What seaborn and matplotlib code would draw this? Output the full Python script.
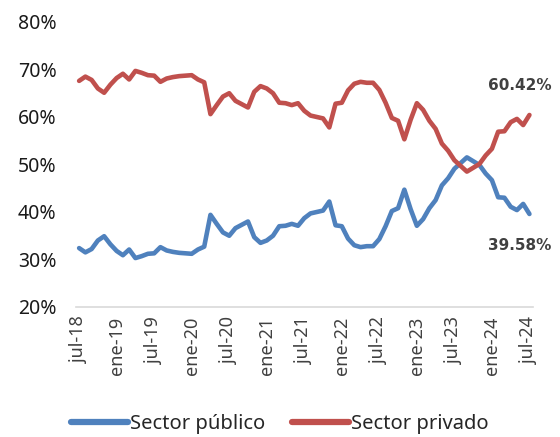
import pandas as pd
import matplotlib.pyplot as plt
import seaborn as sns
from matplotlib.ticker import FuncFormatter

# Participación mensual, jul-18 a jul-24 (%)
privado = [67.6, 68.5, 67.8, 66.0, 65.1, 66.8, 68.2, 69.1, 67.9, 69.7, 69.3, 68.8,
           68.7, 67.4, 68.1, 68.4, 68.6, 68.7, 68.8, 67.9, 67.3, 60.6, 62.5, 64.3,
           65.0, 63.4, 62.7, 62.0, 65.3, 66.5, 66.0, 65.0, 63.0, 62.9, 62.5, 62.9,
           61.3, 60.3, 60.0, 59.7, 57.8, 62.8, 63.0, 65.6, 67.0, 67.4, 67.2, 67.2,
           65.7, 63.0, 59.8, 59.2, 55.3, 59.4, 62.9, 61.5, 59.2, 57.5, 54.4, 52.9,
           50.9, 49.7, 48.5, 49.3, 50.1, 51.9, 53.3, 56.9, 57.0, 58.9, 59.6, 58.3,
           60.42]
publico = [32.4, 31.5, 32.2, 34.0, 34.9, 33.2, 31.8, 30.9, 32.1, 30.3, 30.7, 31.2,
           31.3, 32.6, 31.9, 31.6, 31.4, 31.3, 31.2, 32.1, 32.7, 39.4, 37.5, 35.7,
           35.0, 36.6, 37.3, 38.0, 34.7, 33.5, 34.0, 35.0, 37.0, 37.1, 37.5, 37.1,
           38.7, 39.7, 40.0, 40.3, 42.2, 37.2, 37.0, 34.4, 33.0, 32.6, 32.8, 32.8,
           34.3, 37.0, 40.2, 40.8, 44.7, 40.6, 37.1, 38.5, 40.8, 42.5, 45.6, 47.1,
           49.1, 50.3, 51.5, 50.7, 49.9, 48.1, 46.7, 43.1, 43.0, 41.1, 40.4, 41.7,
           39.58]
tick_labels = ['jul-18', 'ene-19', 'jul-19', 'ene-20', 'jul-20', 'ene-21', 'jul-21',
               'ene-22', 'jul-22', 'ene-23', 'jul-23', 'ene-24', 'jul-24']

df = pd.DataFrame({'mes': range(len(publico)),
                   'Sector público': publico,
                   'Sector privado': privado})
long_df = df.melt(id_vars='mes', var_name='serie', value_name='valor')

sns.set_style('white')
plt.rcParams['font.family'] = ['Noto Sans', 'DejaVu Sans']

fig = plt.figure(figsize=(5.6, 4.37), dpi=100)
ax = fig.add_axes([0.1357, 0.2975, 0.8153, 0.6522])

sns.lineplot(data=long_df, x='mes', y='valor', hue='serie',
             palette={'Sector público': '#4F81BD', 'Sector privado': '#C0504D'},
             linewidth=3.3, ax=ax, legend=False)

ax.set_xlim(-0.5, len(publico) - 0.5)
ax.set_ylim(20, 80)
ax.set_xticks(range(0, len(publico), 6))
ax.set_xticklabels(tick_labels, rotation=90, fontsize=13, color='#404040')
ax.set_yticks(range(20, 81, 10))
ax.yaxis.set_major_formatter(FuncFormatter(lambda v, p: f'{v:.0f}%'))
ax.tick_params(axis='y', labelsize=14, colors='#1a1a1a', length=0, pad=14)
ax.tick_params(axis='x', length=0, pad=7)
ax.set_xlabel('')
ax.set_ylabel('')
for s in ['top', 'right', 'left']:
    ax.spines[s].set_visible(False)
ax.spines['bottom'].set_color('#D9D9D9')
ax.spines['bottom'].set_linewidth(1.2)

last = len(publico) - 1
ax.annotate(f'{privado[-1]:.2f}%', xy=(last, privado[-1]), xytext=(16, 21),
            textcoords='offset points', ha='right', va='center',
            fontsize=11, fontweight='bold', color='#404040',
            family='DejaVu Sans', annotation_clip=False)
ax.annotate(f'{publico[-1]:.2f}%', xy=(last, publico[-1]), xytext=(16, -23),
            textcoords='offset points', ha='right', va='center',
            fontsize=11, fontweight='bold', color='#404040',
            family='DejaVu Sans', annotation_clip=False)

handles = [plt.Line2D([], [], color='#4F81BD', lw=4.5),
           plt.Line2D([], [], color='#C0504D', lw=4.5)]
fig.legend(handles, ['Sector público', 'Sector privado'], loc='lower center',
           bbox_to_anchor=(0.5, -0.035), ncol=2, frameon=False, fontsize=14.5,
           handlelength=2.85, handletextpad=0.1, columnspacing=1.3,
           labelcolor='#262626')

fig.savefig('out.png', dpi=100)
plt.close()
